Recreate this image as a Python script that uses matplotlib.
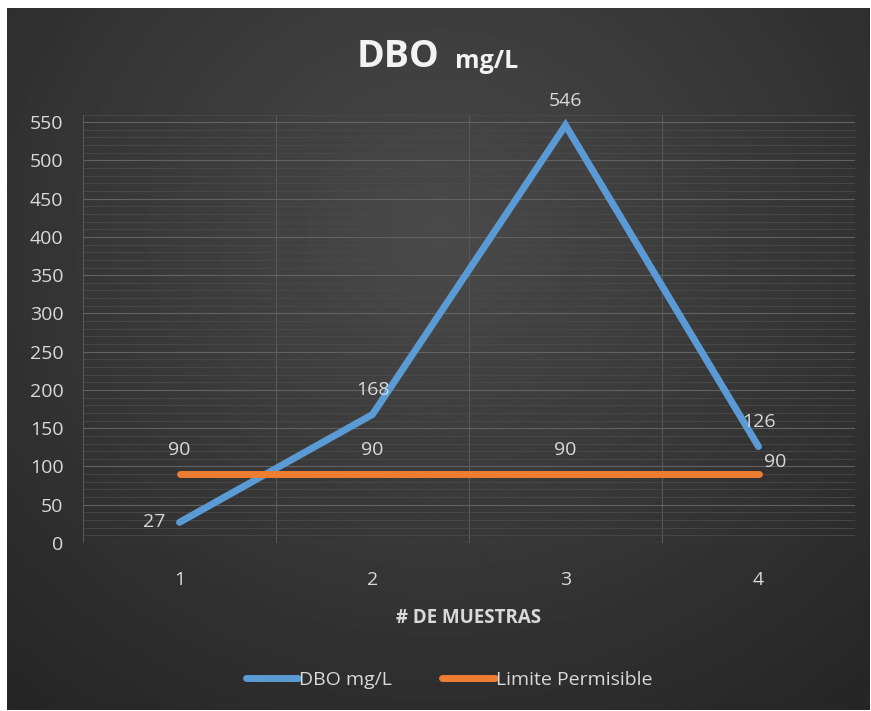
import numpy as np
import matplotlib.pyplot as plt
from matplotlib.ticker import MultipleLocator

muestras = [1, 2, 3, 4]
dbo = [27, 168, 546, 126]
limite = [90, 90, 90, 90]
yticks = list(range(0, 551, 50))

plt.rcParams['font.family'] = ['Open Sans', 'DejaVu Sans']

W, H = 871, 711
fig = plt.figure(figsize=(W / 100, H / 100), dpi=100, facecolor='white')

# fondo degradado oscuro
bg = fig.add_axes([7 / W, 1 / H, 863 / W, 702 / H])
yy, xx = np.mgrid[0:1:300j, 0:1:300j]
r = np.sqrt(((xx - 0.5) / 0.75) ** 2 + ((yy - 0.68) / 0.85) ** 2)
g = np.clip(1 - r, 0, 1)
img = 0.15 + 0.14 * g
bg.imshow(img, cmap='gray', vmin=0, vmax=1, aspect='auto', origin='lower',
          extent=[0, 1, 0, 1])
bg.axis('off')
bg.set_zorder(-10)

ax = fig.add_axes([83 / W, 1 - 543 / H, 772 / W, (543 - 114.5) / H])
ax.set_facecolor('none')
ax.set_xlim(0.5, 4.5)
ax.set_ylim(0, 560)

ax.yaxis.set_minor_locator(MultipleLocator(10))
ax.set_yticks(yticks)
ax.set_xticks(muestras)
ax.set_xticks([1.5, 2.5, 3.5], minor=True)
ax.grid(which='major', axis='y', color='#626262', lw=0.8)
ax.grid(which='minor', axis='y', color='#4a4a4a', lw=0.6)
ax.grid(which='minor', axis='x', color='#5a5a5a', lw=0.7)
for s in ax.spines.values():
    s.set_visible(False)
ax.axvline(0.5, color='#5a5a5a', lw=0.7)
ax.axvline(4.5, color='#5a5a5a', lw=0.7)
ax.axhline(0, color='#626262', lw=0.8)
ax.tick_params(which='both', length=0)
ax.tick_params(axis='y', labelsize=14, labelcolor='#d9d9d9', pad=14)
ax.tick_params(axis='x', labelsize=14, labelcolor='#d9d9d9', pad=20)
for lb in ax.get_yticklabels():
    lb.set_horizontalalignment('right')

l1, = ax.plot(muestras, dbo, color='#5b9bd5', lw=5, solid_capstyle='round',
              solid_joinstyle='miter', label='DBO mg/L', zorder=3)
l2, = ax.plot(muestras, limite, color='#ed7d31', lw=5, solid_capstyle='round',
              label='Limite Permisible', zorder=3)

lab = dict(fontsize=14, color='#d9d9d9')
ax.annotate(str(dbo[0]), (muestras[0], dbo[0]), xytext=(-10, 0),
            textcoords='offset points', ha='right', va='center', **lab)
for x, v in zip(muestras[1:], dbo[1:]):
    ax.annotate(str(v), (x, v), xytext=(0, 11), textcoords='offset points',
                ha='center', va='bottom', **lab)
for x, v in zip(muestras[:3], limite[:3]):
    ax.annotate(str(v), (x, v), xytext=(0, 11), textcoords='offset points',
                ha='center', va='bottom', **lab)
ax.annotate(str(limite[3]), (muestras[3], limite[3]), xytext=(4, 2),
            textcoords='offset points', ha='left', va='bottom', **lab)

ax.set_xlabel('# DE MUESTRAS', fontsize=13.5, fontweight='bold',
              color='#d9d9d9', labelpad=14)

fig.text(439 / W, 1 - 57 / H, 'DBO', fontsize=27, fontweight='bold',
         color='#f2f2f2', ha='right', va='center')
fig.text(455 / W, 1 - 61 / H, 'mg/L', fontsize=18, fontweight='bold',
         color='#f2f2f2', ha='left', va='center')

fig.legend(handles=[l1, l2], loc='center', bbox_to_anchor=(449 / W, 1 - 680 / H),
           ncol=2, frameon=False, fontsize=14, labelcolor='#d9d9d9',
           handlelength=2.7, handletextpad=0.05, columnspacing=2.6)

fig.savefig('out.png', dpi=100, facecolor='white')
